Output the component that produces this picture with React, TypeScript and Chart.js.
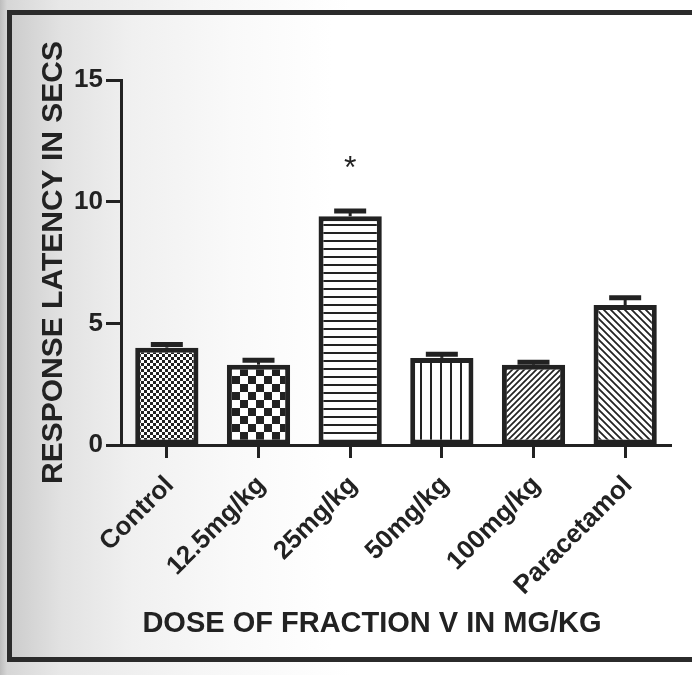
import { useEffect, useRef } from "react";
import { Chart, registerables } from "chart.js";

Chart.register(...registerables);

const CATEGORIES = ["Control", "12.5mg/kg", "25mg/kg", "50mg/kg", "100mg/kg", "Paracetamol"];
const MEANS = [4.0, 3.3, 9.4, 3.58, 3.3, 5.75];
const SEMS = [0.13, 0.18, 0.22, 0.15, 0.1, 0.3];
const SIGNIFICANCE = ["", "", "*", "", "", ""];
const PATTERN_KINDS = ["fineCheck", "check", "hlines", "vlines", "diagUp", "diagDown"];
const Y_TICKS = [0, 5, 10, 15];
const Y_TITLE = "RESPONSE LATENCY IN SECS";
const X_TITLE = "DOSE OF FRACTION V IN MG/KG";

const INK = "#222222";
const FAMILY = "'Liberation Sans', Arial, Helvetica, sans-serif";

function makePattern(kind: string): CanvasPattern | string {
  const c = document.createElement("canvas");
  let w = 8;
  let h = 8;
  if (kind === "fineCheck") { w = 6; h = 6; }
  if (kind === "check") { w = 16; h = 16; }
  if (kind === "hlines") { w = 8; h = 8; }
  if (kind === "vlines") { w = 10; h = 10; }
  if (kind === "diagUp") { w = 6; h = 6; }
  if (kind === "diagDown") { w = 7; h = 7; }
  c.width = w;
  c.height = h;
  const ctx = c.getContext("2d");
  if (!ctx) return "#fff";
  ctx.fillStyle = "#ffffff";
  ctx.fillRect(0, 0, w, h);
  ctx.fillStyle = INK;
  ctx.strokeStyle = INK;
  if (kind === "fineCheck") {
    ctx.fillRect(0, 0, 3, 3);
    ctx.fillRect(3, 3, 3, 3);
  } else if (kind === "check") {
    ctx.fillRect(0, 0, 8, 8);
    ctx.fillRect(8, 8, 8, 8);
  } else if (kind === "hlines") {
    ctx.fillRect(0, 0, w, 2);
  } else if (kind === "vlines") {
    ctx.fillRect(0, 0, 2, h);
  } else if (kind === "diagUp") {
    ctx.lineWidth = 1.7;
    ctx.beginPath();
    ctx.moveTo(-1, h + 1); ctx.lineTo(w + 1, -1);
    ctx.moveTo(-1, 1); ctx.lineTo(1, -1);
    ctx.moveTo(w - 1, h + 1); ctx.lineTo(w + 1, h - 1);
    ctx.stroke();
  } else if (kind === "diagDown") {
    ctx.lineWidth = 1.8;
    ctx.beginPath();
    ctx.moveTo(-1, -1); ctx.lineTo(w + 1, h + 1);
    ctx.moveTo(w - 1, -1); ctx.lineTo(w + 1, 1);
    ctx.moveTo(-1, h - 1); ctx.lineTo(1, h + 1);
    ctx.stroke();
  }
  const p = ctx.createPattern(c, "repeat");
  return p || INK;
}

const extrasPlugin = {
  id: "extras",
  afterDatasetsDraw(chart: any) {
    const ctx: CanvasRenderingContext2D = chart.ctx;
    const meta = chart.getDatasetMeta(0);
    const yScale = chart.scales.y;
    ctx.save();
    ctx.strokeStyle = INK;
    ctx.fillStyle = INK;
    meta.data.forEach((bar: any, i: number) => {
      const x = bar.x;
      const yBar = yScale.getPixelForValue(MEANS[i]);
      const yTop = yScale.getPixelForValue(MEANS[i] + SEMS[i]);
      ctx.lineWidth = 3;
      ctx.beginPath();
      ctx.moveTo(x, yBar);
      ctx.lineTo(x, yTop);
      ctx.stroke();
      ctx.lineWidth = 5;
      ctx.beginPath();
      ctx.moveTo(x - 16, yTop);
      ctx.lineTo(x + 16, yTop);
      ctx.stroke();
      if (SIGNIFICANCE[i]) {
        ctx.font = `32px ${FAMILY}`;
        ctx.textAlign = "center";
        ctx.textBaseline = "alphabetic";
        ctx.fillText(SIGNIFICANCE[i], x, yTop - 33);
      }
    });
    const area = chart.chartArea;
    ctx.font = `bold 29px ${FAMILY}`;
    ctx.textAlign = "center";
    ctx.textBaseline = "middle";
    ctx.fillText(X_TITLE, (area.left + area.right) / 2 - 24, area.bottom + 179);
    ctx.restore();
  },
};

export default function App() {
  const ref = useRef<HTMLCanvasElement>(null);
  useEffect(() => {
    if (!ref.current) return;
    const patterns = PATTERN_KINDS.map((k) => makePattern(k));
    const chart = new Chart(ref.current, {
      type: "bar",
      data: {
        labels: CATEGORIES,
        datasets: [
          {
            data: MEANS,
            backgroundColor: patterns as any,
            borderColor: INK,
            borderWidth: 5,
            borderSkipped: false,
            barPercentage: 0.69,
            categoryPercentage: 1,
          },
        ],
      },
      options: {
        responsive: false,
        animation: false,
        devicePixelRatio: 1,
        layout: { padding: { top: 80, right: 21, bottom: 0, left: 0 } },
        plugins: { legend: { display: false }, tooltip: { enabled: false } },
        scales: {
          x: {
            type: "category",
            offset: true,
            afterFit: (s: any) => { s.height = 230; },
            border: { display: true, color: INK, width: 3 },
            grid: {
              display: true,
              offset: false,
              drawOnChartArea: false,
              drawTicks: true,
              tickLength: 13,
              tickWidth: 3,
              tickColor: INK,
            },
            ticks: {
              autoSkip: false,
              minRotation: 45,
              maxRotation: 45,
              labelOffset: 3,
              padding: 12,
              color: INK,
              font: { family: FAMILY, size: 26, weight: "bold" },
            },
          },
          y: {
            min: 0,
            max: 15,
            afterBuildTicks: (s: any) => { s.ticks = Y_TICKS.map((v) => ({ value: v })); },
            afterFit: (s: any) => { s.width = 121; },
            border: { display: true, color: INK, width: 3 },
            grid: {
              display: true,
              drawOnChartArea: false,
              drawTicks: true,
              tickLength: 15,
              tickWidth: 3,
              tickColor: INK,
            },
            ticks: {
              padding: 3,
              color: INK,
              font: { family: FAMILY, size: 26, weight: "bold" },
            },
            title: {
              display: true,
              text: Y_TITLE,
              color: INK,
              padding: { top: 36, bottom: 0 },
              font: { family: FAMILY, size: 30, weight: "bold" },
            },
          },
        },
      } as any,
      plugins: [extrasPlugin],
    });
    return () => chart.destroy();
  }, []);

  return (
    <div
      style={{
        position: "fixed",
        left: 0,
        top: 0,
        width: 692,
        height: 675,
        overflow: "hidden",
        background:
          "linear-gradient(to right, #bdbdbd 0px, #d6d6d6 7px, #e8e8e8 60px, #f6f6f6 200px, #ffffff 350px)",
      }}
    >
      <div
        style={{
          position: "absolute",
          left: 7,
          top: 10,
          width: 720,
          height: 652,
          boxSizing: "border-box",
          borderTop: "5px solid #2b2b2b",
          borderLeft: "5px solid #2b2b2b",
          borderBottom: "5px solid #2b2b2b",
          background:
            "linear-gradient(to right, #cdcdcd 0px, #e2e2e2 50px, #f0f0f0 120px, #f9f9f9 220px, #ffffff 320px)",
        }}
      />
      <canvas
        ref={ref}
        width={692}
        height={675}
        style={{ position: "absolute", left: 0, top: 0, width: 692, height: 675 }}
      />
    </div>
  );
}
